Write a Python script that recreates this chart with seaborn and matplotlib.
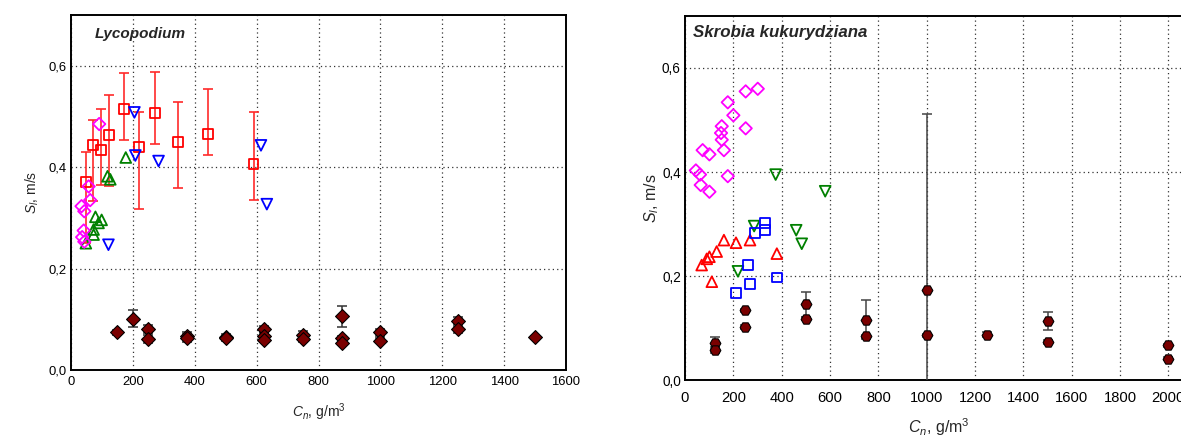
import numpy as np
import matplotlib
matplotlib.use("Agg")
import matplotlib.pyplot as plt
from matplotlib.ticker import MultipleLocator, FuncFormatter
import seaborn as sns

# ---------------- Lycopodium ----------------
lyc_sq_x = [48, 72, 97, 123, 171, 221, 271, 346, 444, 590]
lyc_sq_y = [0.371, 0.444, 0.434, 0.464, 0.515, 0.439, 0.507, 0.449, 0.466, 0.407]
lyc_sq_lo = [0.121, 0.111, 0.070, 0.102, 0.062, 0.122, 0.062, 0.091, 0.043, 0.072]
lyc_sq_hi = [0.058, 0.048, 0.081, 0.078, 0.070, 0.069, 0.081, 0.080, 0.088, 0.101]

lyc_tri_dn_x = [205, 208, 283, 121, 614, 633]
lyc_tri_dn_y = [0.508, 0.423, 0.412, 0.247, 0.443, 0.327]

lyc_tri_up_x = [177, 118, 127, 79, 99, 89, 73, 73, 48]
lyc_tri_up_y = [0.419, 0.382, 0.376, 0.302, 0.296, 0.290, 0.277, 0.267, 0.250]

lyc_dia_x = [91, 57, 62, 34, 43, 41, 36, 43]
lyc_dia_y = [0.485, 0.362, 0.335, 0.323, 0.313, 0.275, 0.262, 0.253]

lyc_dark_x = [150, 200, 250, 250, 375, 375, 500, 500, 625, 625, 625,
              750, 750, 875, 875, 875, 1000, 1000, 1250, 1250, 1500]
lyc_dark_y = [0.074, 0.101, 0.080, 0.062, 0.068, 0.063, 0.066, 0.063, 0.080, 0.068, 0.060,
              0.070, 0.062, 0.106, 0.063, 0.053, 0.074, 0.058, 0.097, 0.080, 0.065]
lyc_dark_err = [0.004, 0.017, 0.008, 0.008, 0.006, 0.008, 0.005, 0.005, 0.007, 0.006, 0.005,
                0.006, 0.006, 0.021, 0.005, 0.004, 0.006, 0.005, 0.007, 0.007, 0.003]

# ---------------- Skrobia kukurydziana ----------------
skr_dia_x = [45, 62, 65, 101, 73, 101, 177, 200, 152, 149, 152, 161, 177, 251, 301, 251]
skr_dia_y = [0.403, 0.395, 0.375, 0.362, 0.442, 0.434, 0.534, 0.509, 0.488, 0.475,
             0.462, 0.442, 0.392, 0.555, 0.560, 0.484]

skr_tri_up_x = [69, 90, 101, 131, 111, 161, 211, 269, 380]
skr_tri_up_y = [0.221, 0.233, 0.237, 0.247, 0.189, 0.269, 0.264, 0.269, 0.243]

skr_tri_dn_x = [219, 286, 375, 460, 483, 580]
skr_tri_dn_y = [0.209, 0.296, 0.395, 0.288, 0.262, 0.363]

skr_sq_x = [211, 260, 269, 290, 331, 331, 380]
skr_sq_y = [0.168, 0.221, 0.184, 0.283, 0.302, 0.289, 0.197]

skr_dark_x = [125, 125, 250, 250, 500, 500, 750, 750, 1000, 1000, 1250, 1500, 1500, 2000, 2000]
skr_dark_y = [0.0715, 0.057, 0.134, 0.102, 0.146, 0.118, 0.116, 0.084, 0.174, 0.0856,
              0.0875, 0.113, 0.073, 0.067, 0.041]
skr_dark_err = [0.011, 0.006, 0.003, 0.003, 0.024, 0.003, 0.037, 0.003, 0.337, 0.003,
                0.005, 0.017, 0.004, 0.003, 0.003]

sns.set_style("white")
plt.rcParams["font.family"] = ["Liberation Sans", "DejaVu Sans"]
plt.rcParams["mathtext.fontset"] = "custom"
plt.rcParams["mathtext.rm"] = "Liberation Sans"
plt.rcParams["mathtext.it"] = "Liberation Sans:italic"

fig = plt.figure(figsize=(11.81, 4.37), dpi=100)
ax1 = fig.add_axes([71 / 1181, (437 - 370) / 437, 495 / 1181, 355 / 437])
ax2 = fig.add_axes([685 / 1181, (437 - 380) / 437, 507.6 / 1181, 364 / 437])

DARK = "#7a0000"


def hollow(ax, x, y, marker, color, size):
    sns.scatterplot(x=x, y=y, ax=ax, marker=marker, s=size, color=color,
                    facecolor="none", edgecolor=color, linewidth=1.3, zorder=4)


def dark_points(ax, x, y, err, marker, size, ecolor):
    ax.errorbar(x, y, yerr=err, fmt="none", ecolor=ecolor, elinewidth=1.1,
                capsize=3.5, capthick=1.1, zorder=3)
    sns.scatterplot(x=x, y=y, ax=ax, marker=marker, s=size, color=DARK,
                    edgecolor="black", linewidth=0.8, zorder=5)


def style_axes(ax, xmax, xpad, title, title_xy, xlabel_y, ylabel_x,
               xtick_fs, ytick_fs, label_fs, title_fs):
    ax.set_xlim(0, xmax)
    ax.set_ylim(0, 0.7)
    ax.xaxis.set_major_locator(MultipleLocator(200))
    ax.xaxis.set_minor_locator(MultipleLocator(100))
    ax.yaxis.set_major_locator(MultipleLocator(0.2))
    ax.yaxis.set_minor_locator(MultipleLocator(0.1))
    ax.yaxis.set_major_formatter(FuncFormatter(lambda v, p: f"{v:.1f}".replace(".", ",")))
    ax.xaxis.set_major_formatter(FuncFormatter(lambda v, p: f"{v:.0f}"))
    ax.tick_params(which="both", direction="in", colors="black",
                   top=False, right=False)
    ax.tick_params(axis="x", which="major", length=4, width=1, pad=xpad, labelsize=xtick_fs)
    ax.tick_params(axis="y", which="major", length=4, width=1, pad=3, labelsize=ytick_fs)
    ax.tick_params(which="minor", length=3, width=1)
    ax.grid(True, which="major", linestyle=(0, (1, 2.5)), color="#333333", linewidth=0.9)
    ax.set_axisbelow(True)
    for s in ax.spines.values():
        s.set_visible(True)
        s.set_color("black")
        s.set_linewidth(1.4)
    ax.set_xlabel(r"$C_n$, g/m$^3$", fontsize=label_fs)
    ax.set_ylabel(r"$S_l$, m/s", fontsize=label_fs)
    ax.xaxis.set_label_coords(0.5, xlabel_y)
    ax.yaxis.set_label_coords(ylabel_x, 0.5)
    ax.text(title_xy[0], title_xy[1], title, transform=ax.transAxes, ha="left", va="top",
            fontsize=title_fs, fontweight="bold", fontstyle="italic")


# ---- left panel ----
ax1.errorbar(lyc_sq_x, lyc_sq_y, yerr=[lyc_sq_lo, lyc_sq_hi], fmt="none",
             ecolor="#ff2a2a", elinewidth=1.2, capsize=3.6, capthick=1.2, zorder=3)
hollow(ax1, lyc_sq_x, lyc_sq_y, "s", "#ff0000", 50)
hollow(ax1, lyc_tri_dn_x, lyc_tri_dn_y, "v", "#0000ff", 60)
hollow(ax1, lyc_tri_up_x, lyc_tri_up_y, "^", "#008000", 60)
hollow(ax1, lyc_dia_x, lyc_dia_y, "D", "#ff00ff", 40)
dark_points(ax1, lyc_dark_x, lyc_dark_y, lyc_dark_err, "D", 50, "#333333")
style_axes(ax1, 1600, 4, "Lycopodium", (0.048, 0.965), -0.088, -0.06,
           9.4, 9.4, 10, 11)

# ---- right panel ----
hollow(ax2, skr_dia_x, skr_dia_y, "D", "#ff00ff", 40)
hollow(ax2, skr_tri_up_x, skr_tri_up_y, "^", "#ff0000", 60)
hollow(ax2, skr_tri_dn_x, skr_tri_dn_y, "v", "#008000", 60)
hollow(ax2, skr_sq_x, skr_sq_y, "s", "#0000ff", 50)
dark_points(ax2, skr_dark_x, skr_dark_y, skr_dark_err, "H", 60, "#444444")
style_axes(ax2, 2100, 8, "Skrobia kukurydziana", (0.016, 0.975), -0.10, -0.048,
           10.6, 9.8, 11.5, 12.2)

fig.savefig("out.png", dpi=100)
